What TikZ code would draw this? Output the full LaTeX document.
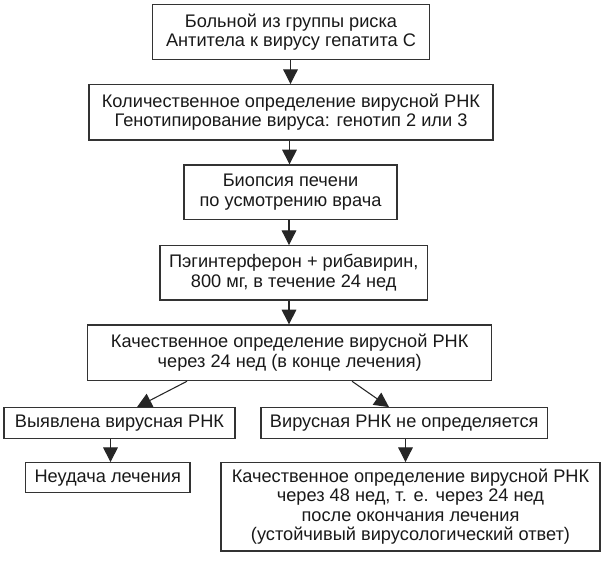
\documentclass[tikz,border=0pt]{standalone}
\usepackage{fontspec}
\setmainfont{Liberation Sans}
\usetikzlibrary{arrows.meta}
\begin{document}
\begin{tikzpicture}[x=0.75pt,y=-0.75pt,
  box/.style={draw=black!80, line width=0.9pt, inner sep=0pt, align=center,
    font=\fontsize{13.65}{14.6}\selectfont, text=black!90},
  arr/.style={draw=black!85, line width=0.8pt, -{Triangle[length=11pt,width=11pt]}}]
\useasboundingbox (0,0) rectangle (609,570);
\node[box, minimum width=277*0.75pt, minimum height=55*0.75pt] (b1) at (291,32) {Больной из группы риска\\Антитела к вирусу гепатита С};
\node[box, minimum width=404*0.75pt, minimum height=55.3*0.75pt] (b2) at (291,112.3) {Количественное определение вирусной РНК\\Генотипирование вируса: генотип 2 или 3};
\node[box, minimum width=213*0.75pt, minimum height=54.5*0.75pt] (b3) at (290.5,192.2) {Биопсия печени\\по усмотрению врача};
\node[box, minimum width=267.5*0.75pt, minimum height=54.3*0.75pt] (b4) at (293.7,272.8) {Пэгинтерферон + рибавирин,\\800 мг, в течение 24 нед};
\node[box, minimum width=404*0.75pt, minimum height=55.7*0.75pt] (b5) at (289.7,352.8) {Качественное определение вирусной РНК\\через 24 нед (в конце лечения)};
\node[box, minimum width=231*0.75pt, minimum height=30.6*0.75pt] (b6) at (119.5,423) {Выявлена вирусная РНК};
\node[box, minimum width=286.5*0.75pt, minimum height=30.6*0.75pt] (b7) at (404.2,423) {Вирусная РНК не определяется};
\node[box, minimum width=164.7*0.75pt, minimum height=30*0.75pt] (b8) at (107.7,477.7) {Неудача лечения};
\node[box, minimum width=379*0.75pt, minimum height=88.3*0.75pt] (b9) at (410.5,506.8) {Качественное определение вирусной РНК\\через 48 нед, т. е. через 24 нед\\после окончания лечения\\(устойчивый вирусологический ответ)};
\draw[arr] (b1.south -| 290.5,0) -- (b2.north -| 290.5,0);
\draw[arr] (b2.south -| 289.5,0) -- (b3.north -| 289.5,0);
\draw[arr] (b3.south -| 289,0) -- (b4.north -| 289,0);
\draw[arr] (b4.south -| 289,0) -- (b5.north -| 289,0);
\draw[arr] (b5.south -| 187,0) -- (b6.north -| 137,0);
\draw[arr] (b5.south -| 352,0) -- (b7.north -| 389,0);
\draw[arr] (b6.south -| 110.5,0) -- (b8.north -| 110.5,0);
\draw[arr] (b7.south -| 405.5,0) -- (b9.north -| 405.5,0);
\end{tikzpicture}
\end{document}
